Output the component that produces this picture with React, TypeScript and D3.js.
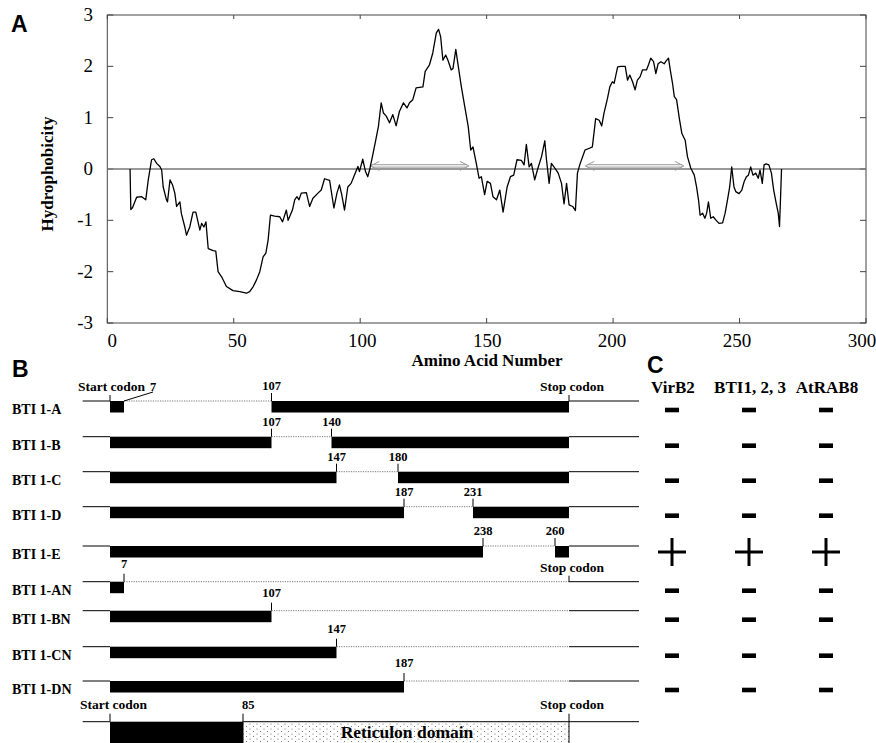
import React from "react";
import * as d3 from "d3";

// Panel A: hydrophobicity profile (residue number, value)
const residue = [9, 9.3, 10, 11.6, 13.6, 15.2, 16.2, 17.5, 18.4, 19.5, 20.8, 21.5, 22.1, 23.4, 23.8, 24.8, 25.8, 26.7, 27.4, 28.7, 29.3, 30.7, 31.3, 32.6, 33.9, 35, 36.6, 37.3, 38.2, 39, 39.9, 41.9, 42.9, 43.8, 45.2, 47.1, 49.7, 52.4, 55, 56.3, 57.7, 59, 60.3, 61.6, 62.7, 63.6, 64.5, 66.2, 68.2, 69.3, 70.8, 71.5, 73.2, 74.1, 75, 75.8, 76.7, 78.7, 80, 81.3, 83.3, 84.6, 85.9, 87.9, 89.6, 90.8, 91.8, 92.7, 93.8, 95.1, 96.4, 97.7, 99.1, 99.7, 101, 102.1, 103, 103.7, 105, 106.3, 107.2, 108.3, 109.2, 110.3, 111.6, 112.9, 114.2, 115.5, 117.1, 118.5, 119.5, 120.8, 122.1, 124.8, 125.7, 127.4, 128.7, 130.1, 131, 131.8, 132.7, 133.8, 134.7, 136, 136.7, 137.8, 138.7, 140, 141.4, 142.7, 143.7, 144.6, 145.9, 147, 147.9, 149.2, 150.2, 151.5, 152.5, 153.9, 155.2, 156.5, 158.1, 159.4, 160.7, 162, 163.7, 164.8, 165.7, 166.8, 167.7, 169, 170.3, 171.7, 173, 173.6, 174.7, 175.6, 176.9, 178.3, 179.6, 180.6, 181.6, 182.6, 184, 185.1, 185.9, 186.8, 188.9, 190.5, 191.8, 193.1, 194.5, 195.5, 196.4, 197.8, 198.7, 199.7, 200.4, 201.8, 203.1, 204.8, 205.7, 206.6, 207.7, 208.7, 209.6, 210.7, 211.6, 213.2, 214, 214.9, 216, 216.9, 217.8, 218.9, 220.2, 220.9, 221.9, 222.6, 223.5, 224.2, 225.1, 226.2, 227.2, 228.5, 229.4, 230.7, 232.1, 233, 233.8, 234.4, 235.4, 236.3, 237, 237.7, 238.6, 239.6, 240.6, 241.9, 243.3, 244.3, 245.2, 246.1, 246.9, 247.8, 248.5, 249.8, 250.9, 251.8, 252.7, 253.5, 254.4, 255.3, 256.4, 257.4, 258.1, 259, 259.7, 260.5, 261.6, 262.6, 263.5, 264.5, 265.3, 265.8, 266.2, 266.6];
const hydro = [0, -0.79, -0.75, -0.55, -0.54, -0.6, -0.21, 0.18, 0.2, 0.11, 0.05, -0.02, -0.35, -0.6, -0.64, -0.21, -0.31, -0.47, -0.73, -0.64, -0.87, -1.14, -1.29, -1.13, -0.84, -0.84, -1.19, -1.06, -1.13, -1.03, -1.55, -1.59, -1.6, -2.0, -2.1, -2.29, -2.37, -2.39, -2.42, -2.39, -2.29, -2.16, -2.0, -1.71, -1.64, -1.38, -0.9, -0.92, -0.93, -1.03, -0.8, -1.0, -0.8, -0.6, -0.54, -0.6, -0.47, -0.46, -0.73, -0.57, -0.47, -0.41, -0.19, -0.22, -0.76, -0.47, -0.31, -0.5, -0.8, -0.35, -0.28, -0.12, 0.05, -0.05, 0.19, -0.05, -0.15, -0.02, 0.28, 0.6, 0.83, 1.29, 1.09, 1.03, 0.9, 1.06, 0.84, 1.12, 1.29, 1.19, 1.29, 1.35, 1.58, 1.6, 1.9, 2.03, 2.26, 2.65, 2.72, 2.58, 2.12, 2.22, 2.12, 1.93, 1.96, 2.33, 2.03, 1.6, 1.2, 0.83, 0.37, 0.43, 0.11, -0.18, -0.15, -0.5, -0.24, -0.28, -0.54, -0.6, -0.41, -0.84, -0.35, -0.15, -0.12, 0.18, 0.17, 0.08, 0.48, 0.04, 0.11, -0.21, 0.02, 0.24, 0.55, 0.21, -0.28, 0.11, 0.02, -0.08, -0.28, -0.68, -0.28, -0.7, -0.73, -0.81, -0.08, 0.08, 0.37, 0.4, 0.43, 0.98, 0.95, 0.84, 1.09, 1.38, 1.6, 1.7, 1.67, 1.99, 2.0, 2.0, 1.73, 1.83, 1.7, 1.54, 1.73, 1.8, 1.93, 1.93, 2.03, 2.16, 2.09, 1.86, 2.05, 2.09, 2.05, 2.1, 2.16, 1.93, 1.67, 1.41, 1.35, 0.98, 0.69, 0.56, 0.24, 0.02, -0.12, -0.35, -0.61, -0.9, -0.86, -0.96, -0.86, -0.64, -0.96, -0.93, -0.99, -1.06, -1.05, -0.86, -0.61, -0.35, 0.04, -0.35, -0.44, -0.48, -0.41, -0.25, -0.15, -0.12, 0.04, -0.12, -0.08, -0.18, -0.02, -0.28, 0.08, 0.1, 0.08, -0.08, -0.41, -0.67, -0.86, -1.12, -0.57, 0];
const arrowFrom = [104, 189];
const arrowTo = [143, 228];
const xTicks = [0, 50, 100, 150, 200, 250, 300];
const yTicks = [-3, -2, -1, 0, 1, 2, 3];

// Panel B: deletion constructs
const STOP = 270;
const constructs = ["BTI 1-A", "BTI 1-B", "BTI 1-C", "BTI 1-D", "BTI 1-E", "BTI 1-AN", "BTI 1-BN", "BTI 1-CN", "BTI 1-DN"];
const cutStart = [7, 107, 147, 187, 238, 7, 107, 147, 187];
const cutEnd = [107, 140, 180, 231, 260, STOP, STOP, STOP, STOP];
const reticulonStart = 85;

// Panel C: interaction results
const partners = ["VirB2", "BTI1, 2, 3", "AtRAB8"];
const virB2 = ["-", "-", "-", "-", "+", "-", "-", "-", "-"];
const bti123 = ["-", "-", "-", "-", "+", "-", "-", "-", "-"];
const atRab8 = ["-", "-", "-", "-", "+", "-", "-", "-", "-"];

const serif = "'Liberation Serif', 'Times New Roman', serif";
const sans = "'Liberation Sans', Arial, sans-serif";

export default function App() {
  const xs = d3.scaleLinear().domain([0, 300]).range([107.3, 866]);
  const ys = d3.scaleLinear().domain([-3, 3]).range([323, 15]);
  const line = d3
    .line<number>()
    .x((_, i) => xs(residue[i]))
    .y((d) => ys(d));

  // schematic (not to scale) residue -> position for panel B
  const xb = d3
    .scaleLinear()
    .domain([0, 7, 85, 107, 140, 147, 180, 187, 231, 238, 260, STOP])
    .range([110, 124, 243, 271.5, 331.5, 336.5, 398, 404, 473, 483, 555, 569]);
  const rowY = d3
    .scaleLinear()
    .domain(d3.range(10))
    .range([401, 436.7, 471.7, 506.7, 546, 581.7, 610.7, 646.7, 681, 721.7]);
  const colX = d3.scalePoint().domain(partners).range([672, 826]);
  const results = [virB2, bti123, atRab8];

  const boxH = 11.5;
  const arrowY = ys(0.06);

  return (
    <svg
      width={876}
      height={743}
      style={{ position: "absolute", left: 0, top: 0, background: "#fff" }}
    >
      <defs>
        <pattern id="dots" width={7} height={5} patternUnits="userSpaceOnUse">
          <rect width={7} height={5} fill="#fff" />
          <circle cx={1.5} cy={1.5} r={0.6} fill="#666" />
          <circle cx={5} cy={4} r={0.6} fill="#666" />
        </pattern>
      </defs>

      {/* ---------- Panel A ---------- */}
      <text x={11} y={32} fontFamily={sans} fontWeight="bold" fontSize={23}>A</text>
      <rect x={xs(0)} y={ys(3)} width={xs(300) - xs(0)} height={ys(-3) - ys(3)} fill="none" stroke="#444" />
      {xTicks.map((t) => (
        <g key={"xt" + t}>
          <line x1={xs(t)} x2={xs(t)} y1={ys(-3)} y2={ys(-3) - 5} stroke="#444" />
          <line x1={xs(t)} x2={xs(t)} y1={ys(3)} y2={ys(3) + 4} stroke="#444" />
          <text x={xs(t) + 5 - t * 0.03} y={347} textAnchor="middle" fontFamily={serif} fontSize={19}>{t}</text>
        </g>
      ))}
      {yTicks.map((t) => (
        <g key={"yt" + t}>
          <line x1={xs(0)} x2={xs(0) + 6} y1={ys(t)} y2={ys(t)} stroke="#444" />
          <line x1={xs(300)} x2={xs(300) - 6} y1={ys(t)} y2={ys(t)} stroke="#444" />
          <text x={93} y={ys(t) + 6} textAnchor="end" fontFamily={serif} fontSize={19}>{t}</text>
        </g>
      ))}
      <line x1={xs(0)} x2={xs(300)} y1={ys(0)} y2={ys(0)} stroke="#777" strokeWidth={1.3} />
      {arrowFrom.map((a, i) => {
        const x1 = xs(a);
        const x2 = xs(arrowTo[i]);
        return (
          <g key={"ar" + i} stroke="#999" fill="none" strokeWidth={1}>
            <line x1={x1 + 2} x2={x2 - 2} y1={arrowY - 1.2} y2={arrowY - 1.2} />
            <line x1={x1 + 2} x2={x2 - 2} y1={arrowY + 1.2} y2={arrowY + 1.2} />
            <polyline points={`${x1 + 9},${arrowY - 4.5} ${x1},${arrowY} ${x1 + 9},${arrowY + 4.5}`} />
            <polyline points={`${x2 - 9},${arrowY - 4.5} ${x2},${arrowY} ${x2 - 9},${arrowY + 4.5}`} />
          </g>
        );
      })}
      <path d={line(hydro) || ""} fill="none" stroke="#000" strokeWidth={1.3} strokeLinejoin="round" />
      <text x={487} y={366} textAnchor="middle" fontFamily={serif} fontWeight="bold" fontSize={17}>Amino Acid Number</text>
      <text transform="translate(53,174) rotate(-90)" textAnchor="middle" fontFamily={serif} fontWeight="bold" fontSize={17}>Hydrophobicity</text>

      {/* ---------- Panel B ---------- */}
      <text x={12} y={377} fontFamily={sans} fontWeight="bold" fontSize={23}>B</text>
      <g fontFamily={serif} fontWeight="bold">
        {constructs.map((name, i) => {
          const y = rowY(i);
          const s = cutStart[i];
          const e = cutEnd[i];
          const labelGap = i >= 5 ? 13 : 10;
          const marks = i === 0 ? [e] : e === STOP ? [s] : [s, e];
          return (
            <g key={name}>
              <text x={12} y={y + 13} fontSize={14}>{name}</text>
              <line x1={82.7} x2={xb(0)} y1={y} y2={y} stroke="#000" />
              <line x1={xb(STOP)} x2={639} y1={y} y2={y} stroke="#000" />
              <line x1={xb(s)} x2={xb(e)} y1={y} y2={y} stroke="#777" strokeDasharray="1.2,1.2" />
              <rect x={xb(0)} y={y} width={xb(s) - xb(0)} height={boxH} fill="#000" />
              {e !== STOP && <rect x={xb(e)} y={y} width={xb(STOP) - xb(e)} height={boxH} fill="#000" />}
              {marks.map((m) => (
                <g key={m}>
                  <line x1={xb(m)} x2={xb(m)} y1={y - 8} y2={y} stroke="#000" />
                  <text x={xb(m)} y={y - labelGap - 1} textAnchor="middle" fontSize={12.5}>{m}</text>
                </g>
              ))}
            </g>
          );
        })}
        {/* start / stop annotations */}
        <line x1={xb(0)} x2={xb(0)} y1={rowY(0) - 6} y2={rowY(0)} stroke="#000" />
        <text x={78} y={rowY(0) - 10} fontSize={13.5}>Start codon</text>
        <text x={xb(7) + 29} y={rowY(0) - 10} textAnchor="middle" fontSize={12.5}>7</text>
        <line x1={xb(7)} y1={rowY(0)} x2={xb(7) + 29} y2={rowY(0) - 9} stroke="#000" />
        {[0, 5].map((r) => (
          <g key={"stop" + r}>
            <line x1={xb(STOP)} x2={xb(STOP)} y1={rowY(r) - 6} y2={rowY(r)} stroke="#000" />
            <text x={xb(STOP) + 3} y={rowY(r) - 10} textAnchor="middle" fontSize={13.5}>Stop codon</text>
          </g>
        ))}
        {/* full-length protein with reticulon domain */}
        <g>
          <line x1={82.7} x2={xb(0)} y1={rowY(9)} y2={rowY(9)} stroke="#000" />
          <line x1={xb(STOP)} x2={639} y1={rowY(9)} y2={rowY(9)} stroke="#000" />
          <rect x={xb(0)} y={rowY(9)} width={xb(reticulonStart) - xb(0)} height={40} fill="#000" />
          <rect x={xb(reticulonStart)} y={rowY(9)} width={xb(STOP) - xb(reticulonStart)} height={40} fill="url(#dots)" stroke="#000" />
          <line x1={xb(0)} x2={xb(0)} y1={rowY(9) - 8} y2={rowY(9)} stroke="#000" />
          <line x1={xb(reticulonStart)} x2={xb(reticulonStart)} y1={rowY(9) - 8} y2={rowY(9)} stroke="#000" />
          <line x1={xb(STOP)} x2={xb(STOP)} y1={rowY(9) - 8} y2={rowY(9)} stroke="#000" />
          <text x={80} y={rowY(9) - 13} fontSize={13.5}>Start codon</text>
          <text x={xb(reticulonStart) - 1} y={rowY(9) - 13} fontSize={12.5}>{reticulonStart}</text>
          <text x={xb(STOP) + 3} y={rowY(9) - 13} textAnchor="middle" fontSize={13.5}>Stop codon</text>
          <text x={407} y={rowY(9) + 16.5} textAnchor="middle" fontSize={17.5}>Reticulon domain</text>
        </g>
      </g>

      {/* ---------- Panel C ---------- */}
      <text x={647} y={373} fontFamily={sans} fontWeight="bold" fontSize={23}>C</text>
      {partners.map((p, c) => (
        <g key={p}>
          <text x={(colX(p) || 0) + 1} y={393} textAnchor="middle" fontFamily={serif} fontWeight="bold" fontSize={17}>{p}</text>
          {results[c].map((r, i) => {
            const cx = colX(p) || 0;
            const cy = rowY(i) + (r === "+" ? 6 : 9);
            return r === "+" ? (
              <g key={i} stroke="#000" strokeWidth={3}>
                <line x1={cx - 14} x2={cx + 14} y1={cy} y2={cy} />
                <line x1={cx} x2={cx} y1={cy - 14} y2={cy + 14} />
              </g>
            ) : (
              <rect key={i} x={cx - 7} y={cy - 2.3} width={14} height={4.6} fill="#000" />
            );
          })}
        </g>
      ))}
    </svg>
  );
}
